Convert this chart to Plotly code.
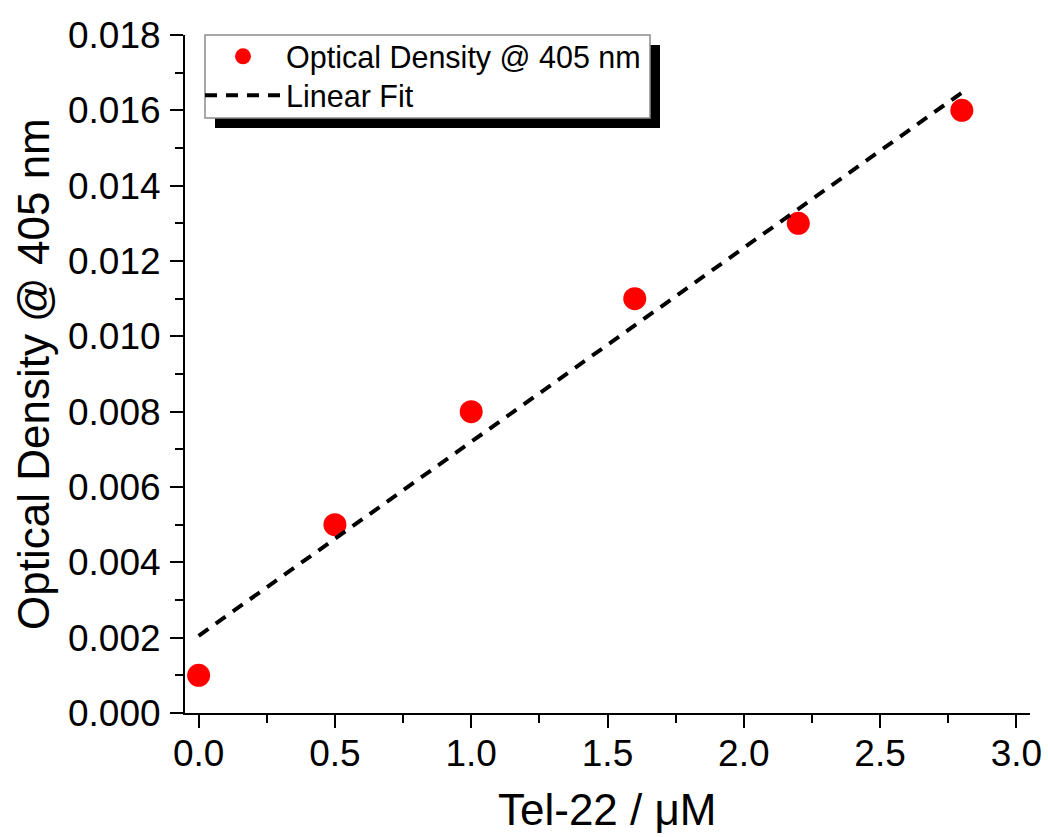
import plotly.graph_objects as go

# Data
conc_uM = [0.0, 0.5, 1.0, 1.6, 2.2, 2.8]
optical_density = [0.001, 0.005, 0.008, 0.011, 0.013, 0.016]
fit_x = [0.0, 2.8]
fit_y = [0.00205, 0.01647]

x_tickvals = [0.0, 0.5, 1.0, 1.5, 2.0, 2.5, 3.0]
y_tickvals = [0.000, 0.002, 0.004, 0.006, 0.008, 0.010, 0.012, 0.014, 0.016, 0.018]

x_title = "Tel-22 / μM"
y_title = "Optical Density @ 405 nm"

# body margin is removed by post_script, so figure coords = screen coords
OFF = 0
W, H = 1048, 837
L, T = 185 - OFF, 35 - OFF
PR, PB = 1030 - OFF, 713 - OFF
R, B = W - PR, H - PB
pw, ph = PR - L, PB - T

def px2paper(sx, sy):
    fx, fy = sx - OFF, sy - OFF
    return (fx - L) / pw, (PB - fy) / ph

def px2container(sx, sy):
    fx, fy = sx - OFF, sy - OFF
    return fx / W, 1 - fy / H

FONT = "Liberation Sans, Arial, sans-serif"

fig = go.Figure()
fig.add_trace(go.Scatter(
    x=conc_uM, y=optical_density, mode="markers",
    name="Optical Density @ 405 nm", legend="legend",
    marker=dict(color="#ff0000", size=23, line=dict(width=0)),
))
fig.add_trace(go.Scatter(
    x=fit_x, y=fit_y, mode="lines", name="Linear Fit", legend="legend2",
    line=dict(color="black", width=4, dash="12px,9px"),
))

# legend box with shadow
sx0, sy0 = px2paper(215, 128)
sx1, sy1 = px2paper(660, 45)
bx0, by0 = px2paper(205, 118)
bx1, by1 = px2paper(650, 35)
shapes = [
    dict(type="rect", xref="paper", yref="paper", x0=sx0, y0=sy0, x1=sx1, y1=sy1,
         fillcolor="black", line=dict(width=0), layer="above"),
    dict(type="rect", xref="paper", yref="paper", x0=bx0, y0=by0, x1=bx1, y1=by1,
         fillcolor="white", line=dict(color="#8c8c8c", width=1.5), layer="above"),
]

annotations = [
    dict(text=x_title, xref="paper", yref="paper", x=0.5, y=0,
         xanchor="center", yanchor="middle", yshift=-(809 - 713), showarrow=False,
         font=dict(family=FONT, size=44, color="black")),
    dict(text=y_title, xref="paper", yref="paper", x=0, y=0.5, textangle=-90,
         xanchor="center", yanchor="middle", xshift=-(185 - 33), showarrow=False,
         font=dict(family=FONT, size=44, color="black")),
]

l1x, l1y = px2container(200, 58 - 28)
l2x, l2y = px2container(200, 97 - 28)

legend_common = dict(
    xanchor="left", yanchor="top", xref="container", yref="container",
    bgcolor="rgba(0,0,0,0)", borderwidth=0,
    font=dict(family=FONT, size=30.5, color="black"),
    itemwidth=76,
)

axis_common = dict(
    showline=True, linecolor="black", linewidth=2,
    ticks="outside", ticklen=13, tickwidth=2, tickcolor="black",
    showgrid=False, zeroline=False, mirror=False, automargin=False,
    ticklabeloverflow="allow",
    tickfont=dict(family=FONT, size=37, color="black"),
)

fig.update_layout(
    width=W, height=H,
    margin=dict(l=L, r=R, t=T, b=B, autoexpand=False),
    paper_bgcolor="white", plot_bgcolor="white",
    font=dict(family=FONT, color="black"),
    shapes=shapes,
    annotations=annotations,
    showlegend=True,
    legend=dict(x=l1x, y=l1y, **legend_common),
    legend2=dict(x=l2x, y=l2y, **legend_common),
    xaxis=dict(
        range=[-0.05, 3.05], tickvals=x_tickvals, tickformat=".1f",
        ticklabelstandoff=-6,
        minor=dict(ticks="outside", ticklen=8, tickwidth=2, tickcolor="black", dtick=0.25, tick0=0),
        **axis_common,
    ),
    yaxis=dict(
        range=[0, 0.018], tickvals=y_tickvals, tickformat=".3f",
        ticklabelstandoff=2,
        minor=dict(ticks="outside", ticklen=8, tickwidth=2, tickcolor="black", dtick=0.001, tick0=0),
        **axis_common,
    ),
)

fig.write_html(
    "out.html",
    config={"displayModeBar": False},
    post_script="document.body.style.margin='0';document.body.style.overflow='hidden';",
)
